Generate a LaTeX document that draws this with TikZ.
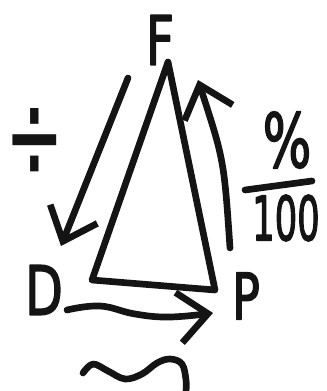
\documentclass[tikz,border=0pt]{standalone}
\usepackage{fontspec}
\setsansfont{DejaVu Sans}
\newfontfamily\hand[FakeBold=2.5]{DejaVu Sans}
\usetikzlibrary{arrows.meta}
\definecolor{ink}{HTML}{141414}
\begin{document}
\begin{tikzpicture}[x=0.75pt,y=-0.75pt, line cap=round, line join=round,
  stroke/.style={line width=5pt, draw=ink},
  tipped/.style={stroke, -{Straight Barb[length=22pt,width=38pt]}},
  lbl/.style={inner sep=0pt, text=ink, font=\fontsize{51}{51}\selectfont\hand, xscale=0.72}]
\useasboundingbox (0,0) rectangle (327,391);
% letters
\node[lbl] (F) at (160,40) {F};
\node[lbl] (D) at (44,290) {D};
\node[lbl, font=\fontsize{48}{48}\selectfont\hand] (P) at (246,296) {P};
\node[lbl, font=\fontsize{52}{52}\selectfont\sffamily, xscale=1.4, yscale=1.9] (div) at (35,145) {÷};
\node[lbl, font=\fontsize{56}{56}\selectfont\hand, xscale=0.95] (pct) at (287,140) {\%};
\node[lbl, font=\fontsize{46}{46}\selectfont\hand, xscale=0.8] (hund) at (286,218) {100};
\coordinate (bar1) at (245,190);
\coordinate (bar2) at (312,181);
\draw[stroke] (bar1) -- (bar2);
% triangle
\coordinate (tA) at (168,62);
\coordinate (tL) at (92,280);
\coordinate (tR) at (215,290);
\draw[stroke] (tA) -- (tL) -- (tR) -- cycle;
% left arrow
\coordinate (l1) at (128,78);
\coordinate (l2) at (61,246);
\draw[tipped] (l1) -- (l2);
% right arrow
\coordinate (r1) at (230,248);
\coordinate (r2) at (198,80);
\draw[tipped] (r1) .. controls (224,160) .. (r2);
% bottom arrow
\draw[tipped] plot[smooth, tension=0.7] coordinates {(67,310) (100,306) (135,314) (170,317) (213,313)};
% squiggle
\draw[stroke] plot[smooth, tension=0.6] coordinates {(83,373) (93,364) (108,371) (125,379) (142,374) (157,363) (170,359) (182,364) (186,380) (186,391)};
\end{tikzpicture}
\end{document}
